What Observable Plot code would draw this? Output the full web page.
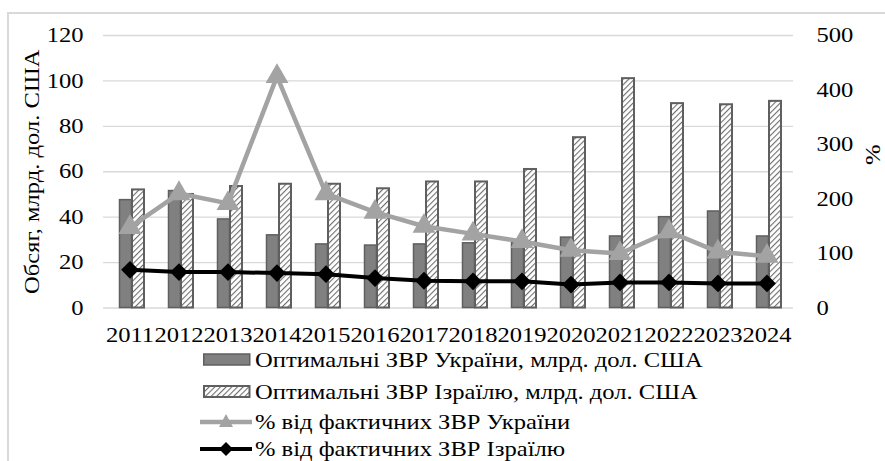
<!DOCTYPE html>
<html><head><meta charset="utf-8">
<script src="https://cdn.jsdelivr.net/npm/d3@7"></script>
<script src="https://cdn.jsdelivr.net/npm/@observablehq/plot@0.6"></script>
<style>
body{margin:0;background:#fff;width:885px;height:461px;overflow:hidden;position:relative;font-family:"Liberation Serif","Times New Roman",serif;color:#000;}
#frame{position:absolute;left:7px;top:12px;width:920px;height:470px;border:2px solid #d9d9d9;box-sizing:border-box;}
#chart{position:absolute;left:0;top:0;}
.row{position:absolute;left:200px;height:30px;display:flex;align-items:center;font-size:21px;white-space:nowrap;}
.row svg{flex:none;margin-right:3px;}
.row span{display:inline-block;transform:scaleX(1.17);transform-origin:left center;}
</style></head>
<body>
<svg width="0" height="0" style="position:absolute">
  <defs>
    <pattern id="hatch" width="4" height="4" patternUnits="userSpaceOnUse" patternTransform="rotate(45)">
      <rect width="4" height="4" fill="#fff"/>
      <line x1="0" y1="0" x2="0" y2="4" stroke="#6e6e6e" stroke-width="2.2"/>
    </pattern>
  </defs>
</svg>
<div id="frame"></div>
<div id="chart"></div>
<div id="legend"></div>
<script>
const years = ["2011","2012","2013","2014","2015","2016","2017","2018","2019","2020","2021","2022","2023","2024"];
const ukrOptimal = [47.5, 51.5, 39, 32, 28, 27.5, 28, 28.5, 29, 31, 31.5, 40, 42.5, 31.5];
const isrOptimal = [52, 50, 53.5, 54.5, 54.5, 52.5, 55.5, 55.5, 61, 75, 101, 90, 89.5, 91];
const ukrPct = [148, 210, 192, 425, 210, 176, 150, 136, 122, 106, 100, 140, 103, 95];
const isrPct = [70, 66, 66, 64, 62, 55, 50, 49, 49, 43, 47, 47, 45, 45];
const leftTicks = [0, 20, 40, 60, 80, 100, 120];
const rightTicks = [0, 100, 200, 300, 400, 500];
const seriesNames = ["Оптимальні ЗВР України, млрд. дол. США", "Оптимальні ЗВР Ізраїлю, млрд. дол. США", "% від фактичних ЗВР України", "% від фактичних ЗВР Ізраїлю"];
const leftTitle = "Обсяг, млрд. дол. США";
const rightTitle = "%";

// secondary axis: map % (0..500) onto the volume scale (0..120)
const k = 120 / 500;
const rows = years.map((y, i) => ({year: y, ukr: ukrOptimal[i], isr: isrOptimal[i], ukrP: ukrPct[i] * k, isrP: isrPct[i] * k}));

const W = 885, H = 350;
const chart = Plot.plot({
  width: W, height: H,
  marginLeft: 103, marginRight: 92, marginTop: 35, marginBottom: H - 307.5,
  style: {fontFamily: "Liberation Serif, Times New Roman, serif", fontSize: "21px", color: "#000", background: "transparent", overflow: "visible"},
  x: {type: "band", domain: years, padding: 0},
  y: {domain: [0, 120]},
  marks: [
    Plot.gridY(leftTicks, {stroke: "#d9d9d9", strokeOpacity: 1, strokeWidth: 1.3}),
    Plot.barY(rows, {x: "year", y: "ukr", fill: "#808080", stroke: "#5f5f5f", strokeWidth: 1.5, insetLeft: 14.5, insetRight: 22.5}),
    Plot.barY(rows, {x: "year", y: "isr", fill: "url(#hatch)", stroke: "#5f5f5f", strokeWidth: 2, insetLeft: 27, insetRight: 10}),
    Plot.line(rows, {x: "year", y: "ukrP", stroke: "#a3a3a3", strokeWidth: 4.5}),
    Plot.dot(rows, {x: "year", y: "ukrP", symbol: "triangle", r: 8.5, fill: "#a3a3a3", stroke: "none"}),
    Plot.line(rows, {x: "year", y: "isrP", stroke: "#000", strokeWidth: 4}),
    Plot.dot(rows, {x: "year", y: "isrP", symbol: "diamond2", r: 8, fill: "#000", stroke: "none"}),
    Plot.axisX({tickSize: 0, tickPadding: 19, label: null}),
    Plot.axisY(leftTicks, {anchor: "left", tickSize: 0, tickPadding: 20, label: null}),
    Plot.axisY(rightTicks.map(v => v * k), {anchor: "right", tickSize: 0, tickPadding: 23, tickFormat: d => String(Math.round(d / k)), label: null}),
    Plot.text([leftTitle], {frameAnchor: "left", textAnchor: "middle", dx: -71, rotate: -90, fontSize: 21, fill: "#000", className: "axistitle"}),
    Plot.text([rightTitle], {frameAnchor: "right", textAnchor: "middle", dx: 80, dy: -17, rotate: -90, fontSize: 21, fill: "#000", className: "axistitle"})
  ]
});
document.getElementById("chart").appendChild(chart);

// the reference typeface is drawn wider; stretch the chart's texts to match
chart.querySelectorAll('g[aria-label$="tick label"] text, .axistitle text').forEach(t => {
  const len = t.getComputedTextLength();
  t.setAttribute("textLength", (len * 1.17).toFixed(2));
  t.setAttribute("lengthAdjust", "spacingAndGlyphs");
});

// legend
const leg = document.getElementById("legend");
const rowCenters = [360, 392, 422, 449];
seriesNames.forEach((name, i) => {
  const div = document.createElement("div");
  div.className = "row";
  div.style.top = (rowCenters[i] - 15) + "px";
  let sw;
  if (i === 0) sw = `<svg width="52" height="16"><rect x="3.75" y="2" width="46" height="11" fill="#808080" stroke="#5f5f5f" stroke-width="1.5"/></svg>`;
  else if (i === 1) sw = `<svg width="52" height="16"><rect x="4" y="2" width="45.5" height="11" fill="url(#hatch)" stroke="#5f5f5f" stroke-width="2"/></svg>`;
  else if (i === 2) sw = `<svg width="52" height="20"><line x1="0" y1="10" x2="52" y2="10" stroke="#a3a3a3" stroke-width="4.5"/><path d="M26,2 L33,15 L19,15 Z" fill="#a3a3a3"/></svg>`;
  else sw = `<svg width="52" height="20"><line x1="0" y1="10" x2="52" y2="10" stroke="#000" stroke-width="4"/><path d="M26,3 L33,10 L26,17 L19,10 Z" fill="#000"/></svg>`;
  div.innerHTML = sw + `<span>${name}</span>`;
  leg.appendChild(div);
});
</script>
</body></html>
